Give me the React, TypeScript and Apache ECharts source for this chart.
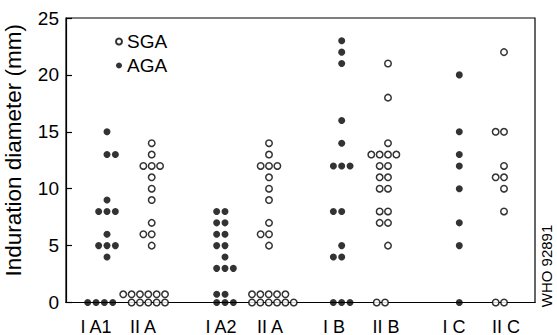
import React, { useEffect, useRef } from "react";
import * as echarts from "echarts";

// Tick / group labels
const groupLabels = ["I A1", "II A", "I A2", "II A", "I B", "II B", "I C", "II C"];
const yTicks = [0, 5, 10, 15, 20, 25];

// Induration diameters (mm) per group
const iA1 = [15, 13, 13, 9, 8, 8, 8, 6, 5, 5, 5, 4, 0, 0, 0, 0];
const iiA1 = [14, 13, 12, 12, 12, 11, 10, 9, 7, 6, 6, 5, 0, 0, 0, 0, 0, 0, 0, 0, 0, 0, 0];
const iA2 = [8, 8, 7, 7, 6, 6, 5, 5, 4, 3, 3, 3, 0, 0, 0, 0, 0];
const iiA2 = [14, 13, 12, 12, 12, 11, 10, 9, 7, 6, 6, 5, 0, 0, 0, 0, 0, 0, 0, 0, 0, 0, 0];
const iB = [23, 22, 21, 16, 14, 12, 12, 12, 8, 8, 5, 4, 4, 0, 0, 0];
const iiB = [21, 18, 14, 13, 13, 13, 13, 12, 12, 11, 11, 10, 10, 8, 8, 7, 7, 5, 0, 0];
const iC = [20, 15, 13, 12, 10, 7, 5, 0];
const iiC = [22, 15, 15, 12, 11, 11, 10, 8, 0, 0];

// Layout (x axis in pixel-like units across the plot)
const SP = 8.35; // horizontal spacing between stacked dots
const ZERO_STEP = 0.72; // vertical step for overflow rows at zero
type Cfg = { center: number; pairRight?: boolean; zeroRows: number[]; zeroAlign: "left" | "right"; zeroAnchor: number };
const layoutCfg: Cfg[] = [
  { center: 41, pairRight: true, zeroRows: [4], zeroAlign: "left", zeroAnchor: 21.7 },
  { center: 85.7, zeroRows: [5, 6], zeroAlign: "right", zeroAnchor: 99 },
  { center: 159, zeroRows: [3, 2], zeroAlign: "left", zeroAnchor: 150.7 },
  { center: 203, zeroRows: [6, 5], zeroAlign: "left", zeroAnchor: 186 },
  { center: 275.7, zeroRows: [3], zeroAlign: "left", zeroAnchor: 267.3 },
  { center: 322, zeroRows: [2], zeroAlign: "left", zeroAnchor: 310.7 },
  { center: 393.3, zeroRows: [1], zeroAlign: "left", zeroAnchor: 393.3 },
  { center: 438, zeroRows: [2], zeroAlign: "left", zeroAnchor: 429.7 },
];
const labelPos = [30, 77, 155, 204, 268, 320, 388, 440];

function layout(values: number[], cfg: Cfg): number[][] {
  const pts: number[][] = [];
  const counts = new Map<number, number>();
  values.forEach((v) => counts.set(v, (counts.get(v) || 0) + 1));
  counts.forEach((n, v) => {
    if (v === 0) {
      let remaining = n;
      let row = 0;
      for (const cap of cfg.zeroRows) {
        const k = Math.min(cap, remaining);
        for (let i = 0; i < k; i++) {
          const x = cfg.zeroAlign === "left" ? cfg.zeroAnchor + i * SP : cfg.zeroAnchor - (k - 1 - i) * SP;
          pts.push([x, row * ZERO_STEP]);
        }
        remaining -= k;
        row++;
        if (remaining <= 0) break;
      }
    } else {
      const base = n % 2 === 0 ? (cfg.pairRight ? -(n / 2 - 1) : -n / 2) : -(n - 1) / 2;
      for (let i = 0; i < n; i++) pts.push([cfg.center + (base + i) * SP, v]);
    }
  });
  return pts;
}

const FONT = "'Liberation Sans', Arial, Helvetica, sans-serif";

export default function App() {
  const ref = useRef<HTMLDivElement>(null);
  useEffect(() => {
    if (!ref.current) return;
    const chart = echarts.init(ref.current, undefined, { renderer: "svg" });
    const groups = [iA1, iiA1, iA2, iiA2, iB, iiB, iC, iiC];
    const filledIdx = [0, 2, 4, 6];
    const agaData: number[][] = [];
    const sgaData: number[][] = [];
    groups.forEach((g, i) => {
      const pts = layout(g, layoutCfg[i]);
      if (filledIdx.includes(i)) agaData.push(...pts);
      else sgaData.push(...pts);
    });
    const labelMap = new Map<number, string>();
    labelPos.forEach((p, i) => labelMap.set(p, groupLabels[i]));

    chart.setOption({
      animation: false,
      backgroundColor: "#fff",
      textStyle: { fontFamily: FONT, color: "#000" },
      grid: {
        left: 66, right: 22, top: 18, bottom: 32.5,
        containLabel: false,
        outerBoundsMode: "none",
        show: true, borderColor: "#000", borderWidth: 1.2, backgroundColor: "transparent",
      },
      legend: {
        orient: "vertical",
        left: 110,
        top: 27,
        itemWidth: 6,
        itemHeight: 6,
        itemGap: 5,
        icon: "circle",
        data: ["SGA", "AGA"],
        textStyle: { fontSize: 19, color: "#000", fontFamily: FONT },
      },
      xAxis: {
        type: "value",
        min: 0,
        max: 469,
        interval: 1,
        splitLine: { show: false },
        axisTick: { show: false },
        axisLine: { show: true, lineStyle: { color: "#000", width: 1.2 } },
        axisLabel: {
          fontSize: 18,
          color: "#000",
          fontFamily: FONT,
          margin: 15,
          showMinLabel: false,
          showMaxLabel: false,
          formatter: (v: number) => labelMap.get(Math.round(v)) || "",
        },
      },
      yAxis: {
        type: "value",
        min: yTicks[0],
        max: yTicks[yTicks.length - 1],
        interval: 5,
        name: "Induration diameter (mm)",
        nameLocation: "middle",
        nameGap: 41,
        nameTextStyle: { fontSize: 22.5, color: "#000", fontFamily: FONT, padding: [0, 0, 0, 20] },
        splitLine: { show: false },
        axisTick: { show: true, inside: true, length: 6, lineStyle: { color: "#000", width: 1.2 } },
        axisLine: { show: true, lineStyle: { color: "#000", width: 1.2 } },
        axisLabel: { fontSize: 19, color: "#000", fontFamily: FONT, margin: 7 },
      },
      graphic: [
        {
          type: "text",
          x: 546,
          y: 266,
          rotation: Math.PI / 2,
          style: {
            text: "WHO 92891",
            fontSize: 15,
            fontFamily: FONT,
            fill: "#000",
            align: "center",
            verticalAlign: "middle",
          },
        },
      ],
      series: [
        {
          name: "SGA",
          type: "scatter",
          data: sgaData,
          symbol: "circle",
          symbolSize: 6.5,
          clip: false,
          itemStyle: { color: "#fff", borderColor: "#000", borderWidth: 1.5 },
          z: 5,
        },
        {
          name: "AGA",
          type: "scatter",
          data: agaData,
          symbol: "circle",
          symbolSize: 7,
          clip: false,
          itemStyle: { color: "#000" },
          z: 5,
        },
      ],
    });
    return () => chart.dispose();
  }, []);
  return <div ref={ref} style={{ width: 557, height: 335, position: "absolute", left: 0, top: 0 }} />;
}
